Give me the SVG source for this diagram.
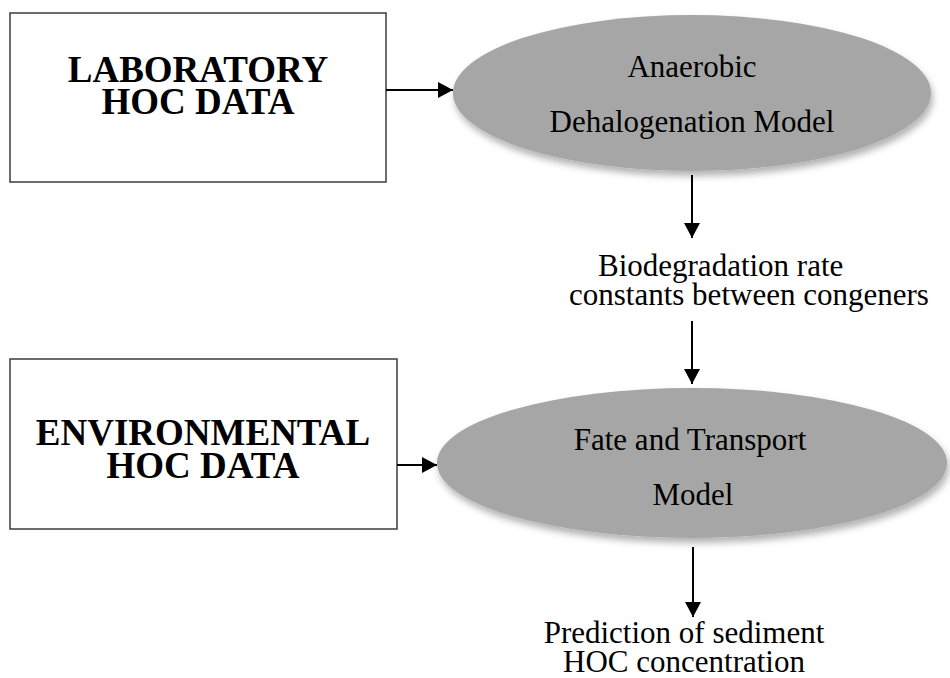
<svg xmlns="http://www.w3.org/2000/svg" width="950" height="678" viewBox="0 0 950 678">
  <style>
    text { font-family: 'Liberation Serif', 'DejaVu Serif', serif; fill: #000; }
    .box { fill: #ffffff; stroke: #3c3c3c; stroke-width: 1.5; }
    .oval { fill: #a6a6a6; filter: url(#soft); }
    .head { font-weight: bold; font-size: 37px; text-anchor: middle; }
    .lbl { font-size: 31px; }
    .mid { text-anchor: middle; }
    .wire { stroke: #000; stroke-width: 2; fill: none; marker-end: url(#tip); }
  </style>
  <defs>
    <marker id="tip" markerUnits="userSpaceOnUse" markerWidth="16" markerHeight="16" refX="15" refY="8" orient="auto">
      <path d="M0,0 L15,8 L0,16 Z" fill="#000"/>
    </marker>
    <filter id="soft" x="-10%" y="-10%" width="120%" height="130%">
      <feDropShadow dx="2" dy="5" stdDeviation="3.5" flood-color="#000" flood-opacity="0.3"/>
    </filter>
  </defs>

  <g id="lab-data">
    <rect class="box" x="10" y="13" width="376" height="169"/>
    <text class="head" x="198" y="82">LABORATORY</text>
    <text class="head" x="198" y="114">HOC DATA</text>
  </g>

  <g id="dehalogenation-model">
    <ellipse class="oval" cx="692" cy="93" rx="239" ry="78"/>
    <text class="lbl mid" x="692" y="77">Anaerobic</text>
    <text class="lbl mid" x="692" y="132">Dehalogenation Model</text>
  </g>

  <g id="rate-constants">
    <text class="lbl" x="598" y="276">Biodegradation rate</text>
    <text class="lbl" x="569" y="305">constants between congeners</text>
  </g>

  <g id="env-data">
    <rect class="box" x="10" y="359" width="387" height="170"/>
    <text class="head" x="203" y="445">ENVIRONMENTAL</text>
    <text class="head" x="203" y="478">HOC DATA</text>
  </g>

  <g id="fate-transport-model">
    <ellipse class="oval" cx="692" cy="463" rx="255" ry="75"/>
    <text class="lbl mid" x="690" y="450">Fate and Transport</text>
    <text class="lbl mid" x="693" y="505">Model</text>
  </g>

  <g id="prediction">
    <text class="lbl mid" x="684" y="643">Prediction of sediment</text>
    <text class="lbl mid" x="684" y="672">HOC concentration</text>
  </g>

  <g id="connectors">
    <line class="wire" x1="386" y1="90" x2="453" y2="90"/>
    <line class="wire" x1="692" y1="175" x2="692" y2="238"/>
    <line class="wire" x1="692" y1="321" x2="692" y2="384"/>
    <line class="wire" x1="397" y1="465" x2="437" y2="465"/>
    <line class="wire" x1="693" y1="547" x2="693" y2="617"/>
  </g>
</svg>
